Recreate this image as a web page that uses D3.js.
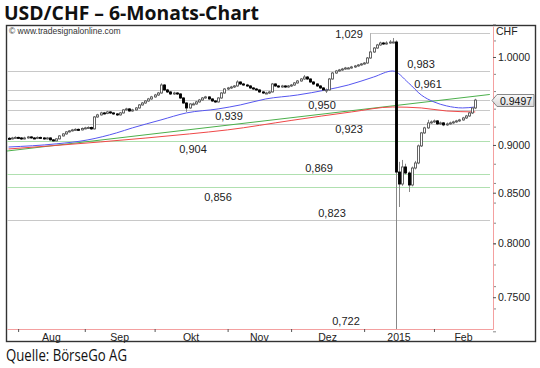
<!DOCTYPE html>
<html lang="de">
<head>
    <meta charset="UTF-8">
    <script src="https://cdn.jsdelivr.net/npm/d3@7"></script>
    <style>
        body{margin:0;background:#fff;}
        svg text{font-family:"Liberation Sans",Arial,sans-serif;}
        .axis text{font-size:10.5px;fill:#222;}
        .axis .tick line{stroke:#555;}
    </style>
    <title>USD/CHF</title>
</head>
<body>
<script>
    // trading days 29.07.2014 - 19.02.2015 (weekdays)
    var dates = d3.timeDay.range(new Date(2014,6,29), new Date(2015,1,20))
        .filter(function(d){ return d.getDay()%6 !== 0; });

    var firstOpen = 0.9072;
    var closes = [0.9066,0.9076,0.9082,
        0.9076,0.9066,0.9076,0.9087,0.9076,0.9071,0.9082,0.9076,0.9066,0.9076,
        0.9055,0.9044,0.9066,0.9098,0.9120,0.9142,0.9153,0.9164,0.9170,0.9164,
        0.9180,0.9186,0.9191,0.9175,0.9307,0.9330,0.9352,0.9346,0.9363,0.9352,
        0.9341,0.9330,0.9352,0.9386,0.9397,0.9374,0.9386,0.9408,0.9442,0.9464,
        0.9487,0.9510,0.9533,0.9555,0.9578,0.9670,0.9613,0.9590,0.9567,0.9578,
        0.9567,0.9521,0.9464,0.9408,0.9453,0.9453,0.9476,0.9498,0.9521,0.9533,
        0.9510,0.9487,0.9476,0.9521,0.9578,0.9624,0.9636,0.9647,0.9659,0.9705,
        0.9682,0.9670,0.9659,0.9636,0.9624,0.9613,0.9590,0.9578,0.9578,0.9590,
        0.9682,0.9659,0.9647,0.9659,0.9647,0.9659,0.9670,0.9694,0.9717,0.9740,
        0.9763,0.9740,0.9705,0.9682,0.9659,0.9636,0.9613,0.9613,0.9740,0.9810,
        0.9834,0.9846,0.9857,0.9869,0.9869,0.9881,0.9893,0.9905,0.9917,0.9928,
        0.9988,1.0060,1.0108,1.0145,1.0169,1.0157,1.0169,1.0181,1.0181,0.8713,
        0.8589,0.8766,0.8703,0.8579,0.8755,0.8808,0.8990,0.9131,0.9186,0.9241,
        0.9252,0.9263,0.9230,0.9241,0.9219,0.9230,0.9241,0.9252,0.9263,0.9274,
        0.9296,0.9318,0.9352,0.9408,0.9497];
    var highs = [0.9085,0.9088,0.9094,
        0.9090,0.9085,0.9089,0.9098,0.9095,0.9086,0.9093,0.9090,0.9084,0.9087,
        0.9083,0.9064,0.9072,0.9106,0.9128,0.9150,0.9162,0.9175,0.9182,0.9179,
        0.9190,0.9198,0.9203,0.9200,0.9318,0.9342,0.9365,0.9363,0.9375,0.9372,
        0.9360,0.9350,0.9362,0.9395,0.9410,0.9405,0.9398,0.9418,0.9452,0.9475,
        0.9498,0.9522,0.9545,0.9568,0.9590,0.9690,0.9680,0.9625,0.9600,0.9592,
        0.9588,0.9575,0.9530,0.9472,0.9462,0.9470,0.9488,0.9510,0.9532,0.9545,
        0.9541,0.9518,0.9496,0.9530,0.9588,0.9635,0.9648,0.9660,0.9670,0.9725,
        0.9712,0.9694,0.9683,0.9668,0.9645,0.9636,0.9620,0.9600,0.9592,0.9603,
        0.9694,0.9690,0.9668,0.9672,0.9667,0.9670,0.9682,0.9705,0.9728,0.9752,
        0.9786,0.9775,0.9748,0.9715,0.9690,0.9668,0.9645,0.9630,0.9752,0.9822,
        0.9846,0.9858,0.9870,0.9882,0.9880,0.9894,0.9905,0.9916,0.9928,0.9940,
        1.0000,1.0072,1.0120,1.0158,1.0185,1.0182,1.0190,1.0205,1.0230,1.0200,
        0.8820,0.8840,0.8800,0.8720,0.8770,0.8830,0.9005,0.9142,0.9198,0.9275,
        0.9268,0.9278,0.9272,0.9256,0.9250,0.9245,0.9255,0.9265,0.9275,0.9286,
        0.9308,0.9330,0.9362,0.9418,0.9512];
    var lows = [0.9058,0.9060,0.9070,
        0.9066,0.9055,0.9060,0.9069,0.9068,0.9062,0.9064,0.9067,0.9058,0.9059,
        0.9047,0.9036,0.9040,0.9060,0.9092,0.9112,0.9135,0.9146,0.9155,0.9152,
        0.9158,0.9170,0.9176,0.9165,0.9168,0.9298,0.9322,0.9334,0.9338,0.9340,
        0.9330,0.9318,0.9322,0.9345,0.9378,0.9365,0.9366,0.9378,0.9400,0.9434,
        0.9455,0.9478,0.9500,0.9524,0.9545,0.9570,0.9602,0.9578,0.9555,0.9556,
        0.9555,0.9510,0.9455,0.9363,0.9398,0.9440,0.9445,0.9468,0.9490,0.9512,
        0.9500,0.9476,0.9465,0.9468,0.9512,0.9570,0.9612,0.9625,0.9636,0.9650,
        0.9670,0.9660,0.9648,0.9625,0.9612,0.9602,0.9580,0.9566,0.9565,0.9568,
        0.9584,0.9648,0.9636,0.9638,0.9636,0.9638,0.9648,0.9660,0.9685,0.9708,
        0.9730,0.9728,0.9694,0.9670,0.9648,0.9624,0.9600,0.9578,0.9605,0.9732,
        0.9800,0.9824,0.9836,0.9848,0.9856,0.9860,0.9870,0.9884,0.9896,0.9908,
        0.9920,0.9978,1.0050,1.0098,1.0135,1.0145,1.0148,1.0160,1.0165,0.7220,
        0.8356,0.8570,0.8690,0.8507,0.8565,0.8740,0.8795,0.8978,0.9120,0.9175,
        0.9230,0.9240,0.9218,0.9218,0.9205,0.9208,0.9220,0.9230,0.9242,0.9252,
        0.9265,0.9285,0.9308,0.9340,0.9395];

    // moving averages (bar index, value)
    var blueIdx = [0,15,25,34,39,48,56,66,73,81,91,100,107,115,121,126,130,134,138,143,147];
    var blueVal = [0.8978,0.9012,0.9055,0.9131,0.9186,0.9274,0.9352,0.9397,0.9442,0.9510,0.9555,
                   0.9613,0.9670,0.9763,0.9834,0.9694,0.9555,0.9476,0.9431,0.9408,0.9419];
    var redIdx = [0,29,57,69,89,108,121,130,138,147];
    var redVal = [0.8957,0.9033,0.9120,0.9164,0.9268,0.9363,0.9419,0.9408,0.9374,0.9363];
    // trendline
    var trendIdx = [-0.5,151.6];
    var trendVal = [0.8935,0.9561];

    // horizontal levels
    var levels = [1.029,0.983,0.961,0.950,0.939,0.923,0.904,0.869,0.856,0.823,0.722];
    var levelGreen = [false,false,false,false,false,false,true,true,true,false,false];
    var levelStart = [114,-0.5,-0.5,-0.5,-0.5,-0.5,-0.5,-0.5,-0.5,-0.5,122];

    var monthNames = ["Aug","Sep","Okt","Nov","Dez","2015","Feb"];
    var priceTicks = [1.0,0.9,0.85,0.8,0.75];

    // layout for the level labels: [x, baseline offset from line]
    var labelPos = [[349,5],[421,-3],[428,-2],[322,9],[229,10],[349,9],[193,12],[319,-2],[218,14],[332,-3],[346,-4]];

    var W = 540, H = 368;
    var L = 7, R = 493, T = 26, B = 329;

    var svg = d3.select("body").append("svg")
        .attr("width",W).attr("height",H);

    var x = d3.scaleLinear().domain([-0.5, dates.length + 4.6]).range([L,R]);
    var y = d3.scaleLog().domain([0.7220,1.0378]).range([B,T]);

    var comma = d3.formatLocale({decimal:",",thousands:".",grouping:[3],currency:["","€"]}).format(".3f");

    // title
    svg.append("text").attr("x",4).attr("y",20)
        .attr("textLength",255).attr("lengthAdjust","spacingAndGlyphs")
        .style("font-family","'Open Sans',sans-serif").style("font-weight","bold")
        .style("font-size","20px").attr("fill","#111")
        .text("USD/CHF \u2013 6-Monats-Chart");
    svg.append("text").attr("x",6).attr("y",361)
        .attr("textLength",121).attr("lengthAdjust","spacingAndGlyphs")
        .style("font-family","'Open Sans',sans-serif")
        .style("font-size","15.5px").attr("fill","#111")
        .text("Quelle: BörseGo AG");

    // frame
    svg.append("rect").attr("x",6.5).attr("y",25.5).attr("width",529).attr("height",316)
        .attr("fill","none").attr("stroke","#333").attr("stroke-width",1.4);
    svg.append("text").attr("x",9).attr("y",34).style("font-size","8.5px").attr("fill","#333")
        .text("\u00a9 www.tradesignalonline.com");

    // level lines
    var lv = svg.append("g");
    levels.forEach(function(v,k){
        var yy = Math.round(y(v))+0.5;
        lv.append("line").attr("x1",x(levelStart[k])).attr("x2",490)
            .attr("y1",yy).attr("y2",yy)
            .attr("stroke",levelGreen[k] ? "#b0e0b0" : "#c8c8c8").attr("stroke-width",1.2);
    });
    // fib box vertical at the high
    lv.append("line").attr("x1",Math.round(x(levelStart[0]))+0.5).attr("x2",Math.round(x(levelStart[0]))+0.5)
        .attr("y1",y(levels[0])).attr("y2",y(1.0)).attr("stroke","#b0b0b0");

    // trendline and averages
    var pts = function(ix,vals){ return ix.map(function(d,k){ return [d,vals[k]]; }); };
    var line = d3.line().x(function(d){ return x(d[0]); }).y(function(d){ return y(d[1]); });
    var smooth = d3.line().curve(d3.curveMonotoneX).x(function(d){ return x(d[0]); }).y(function(d){ return y(d[1]); });
    svg.append("path").attr("d",line(pts(trendIdx,trendVal))).attr("fill","none").attr("stroke","#4cb04c").attr("stroke-width",1);
    svg.append("path").attr("d",smooth(pts(redIdx,redVal))).attr("fill","none").attr("stroke","#f04848").attr("stroke-width",1);
    svg.append("path").attr("d",smooth(pts(blueIdx,blueVal))).attr("fill","none").attr("stroke","#5656f0").attr("stroke-width",1);

    // candles
    var bars = closes.map(function(c,i){
        return {i:i, o: i ? closes[i-1] : firstOpen, h:highs[i], l:lows[i], c:c};
    });
    var g = svg.selectAll("g.bar").data(bars).enter().append("g").attr("class","bar");
    g.append("line")
        .attr("x1",function(d){ return Math.round(x(d.i))+0.5; })
        .attr("x2",function(d){ return Math.round(x(d.i))+0.5; })
        .attr("y1",function(d){ return y(d.h); })
        .attr("y2",function(d){ return y(d.l); })
        .attr("stroke","#888").attr("stroke-width",1);
    g.append("rect")
        .attr("x",function(d){ return Math.round(x(d.i))-0.5; })
        .attr("width",2)
        .attr("y",function(d){ return y(Math.max(d.o,d.c)); })
        .attr("height",function(d){ return Math.max(1, y(Math.min(d.o,d.c)) - y(Math.max(d.o,d.c))); })
        .attr("fill",function(d){ return d.c >= d.o ? "#fff" : "#000"; })
        .attr("stroke",function(d){ return d.c >= d.o ? "#555" : "#000"; })
        .attr("stroke-width",0.9);

    // level labels
    levels.forEach(function(v,k){
        svg.append("text").attr("x",labelPos[k][0]).attr("y",y(v)+labelPos[k][1])
            .attr("text-anchor","middle").style("font-size","11px").attr("fill","#222")
            .text(comma(v));
    });

    // bottom axis
    var monthStart = [];
    dates.forEach(function(d,i){
        if(i && d.getMonth() !== dates[i-1].getMonth()) monthStart.push(i);
    });
    var xAxis = svg.append("g").attr("class","axis").attr("transform","translate(0,"+B+")")
        .call(d3.axisBottom(x).tickValues(monthStart).tickSize(3).tickSizeOuter(0).tickFormat(""));
    xAxis.select(".domain").attr("stroke","#f4a0a0");
    monthStart.forEach(function(s,k){
        var e = k+1 < monthStart.length ? x(monthStart[k+1]) : R;
        svg.append("text").attr("class","axis").attr("x",(x(s)+e)/2).attr("y",341)
            .attr("text-anchor","middle").style("font-size","10.5px").attr("fill","#222")
            .text(monthNames[k]);
    });

    // right axis
    var minor = d3.range(0.72,1.04,0.02);
    var yMinor = svg.append("g").attr("transform","translate("+R+",0)")
        .call(d3.axisRight(y).tickValues(minor).tickSize(3).tickFormat(""));
    yMinor.select(".domain").remove();
    yMinor.selectAll(".tick line").attr("stroke","#888");
    var yAxis = svg.append("g").attr("class","axis").attr("transform","translate("+R+",0)")
        .call(d3.axisRight(y).tickValues(priceTicks).tickSize(3).tickSizeOuter(0).tickPadding(2).tickFormat(d3.format(".4f")));
    yAxis.select(".domain").attr("stroke","#f4a0a0");
    svg.append("text").attr("x",496).attr("y",35).style("font-size","10.5px").attr("fill","#222").text("CHF");

    // last price box
    var last = closes[closes.length-1];
    var ly = Math.round(y(last))+0.5;
    var grad = svg.append("defs").append("linearGradient").attr("id","pb").attr("x1",0).attr("y1",0).attr("x2",0).attr("y2",1);
    grad.append("stop").attr("offset","0").attr("stop-color","#fafafa");
    grad.append("stop").attr("offset","1").attr("stop-color","#d8d8d8");
    svg.append("path")
        .attr("d","M"+(R-1)+","+ly+" L"+(R+4)+","+(ly-6)+" L534,"+(ly-6)+" L534,"+(ly+6)+" L"+(R+4)+","+(ly+6)+" Z")
        .attr("fill","url(#pb)").attr("stroke","#888");
    svg.append("text").attr("x",R+7).attr("y",ly+4).style("font-size","10.5px").attr("fill","#111")
        .text(d3.format(".4f")(last));
</script>
</body>
</html>
